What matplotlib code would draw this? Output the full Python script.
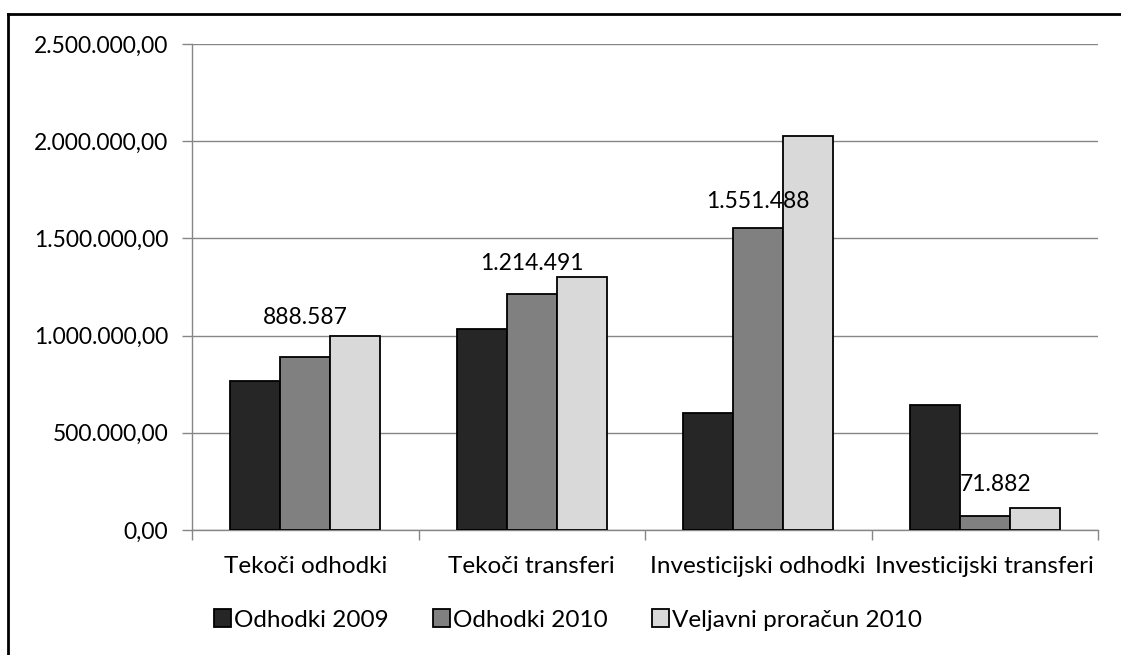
import matplotlib
matplotlib.use('Agg')
import matplotlib.pyplot as plt
from matplotlib.ticker import FuncFormatter
from matplotlib.lines import Line2D
import numpy as np

plt.rcParams['font.family'] = ['Lato', 'DejaVu Sans']

# data
categories = ['Tekoči odhodki', 'Tekoči transferi', 'Investicijski odhodki', 'Investicijski transferi']
series_names = ['Odhodki 2009', 'Odhodki 2010', 'Veljavni proračun 2010']
odhodki_2009 = [766000, 1034000, 603000, 642000]
odhodki_2010 = [888587, 1214491, 1551488, 71882]
veljavni_2010 = [1000000, 1302000, 2027000, 111000]
value_labels = ['888.587', '1.214.491', '1.551.488', '71.882']

# styling
colors = ['#262626', '#808080', '#d9d9d9']
label_offsets = [(0, 21), (0, 14), (0, 12), (8, 15)]  # points, as placed in the reference
grid_col = '#868686'
fs_num = 16.5
fs_txt = 17.5

fig = plt.figure(figsize=(11.21, 6.55), dpi=100)
ax = fig.add_axes([192/1121, 1-530/655, 906/1121, 486/655])

x = np.arange(len(categories))
w = 0.221
for i, (vals, c, name) in enumerate(zip([odhodki_2009, odhodki_2010, veljavni_2010], colors, series_names)):
    ax.bar(x + (i-1)*w, vals, w, color=c, edgecolor='black', linewidth=1.3,
           label=name, zorder=3)

# data labels above the middle bars
for xi, v, t, off in zip(x, odhodki_2010, value_labels, label_offsets):
    ax.annotate(t, (xi, v), xytext=off, textcoords='offset points',
                ha='center', va='bottom', fontsize=fs_num)

ax.set_xlim(-0.5, len(categories)-0.5)
ax.set_ylim(0, 2500000)
ax.set_yticks(np.arange(0, 2500001, 500000))
ax.yaxis.set_major_formatter(FuncFormatter(
    lambda v, p: '{:,.2f}'.format(v).replace(',', ' ').replace('.', ',').replace(' ', '.')))
ax.grid(axis='y', color=grid_col, linewidth=1.0, zorder=0)

# tick marks between categories, labels at centers
ax.set_xticks(np.arange(-0.5, len(categories), 1.0))
ax.set_xticklabels([])
ax.set_xticks(x, minor=True)
ax.set_xticklabels(categories, minor=True, fontsize=fs_txt)
ax.tick_params(axis='x', which='major', length=7, color=grid_col, width=1)
ax.tick_params(axis='x', which='minor', length=0, pad=19)
ax.tick_params(axis='y', length=7, color=grid_col, width=1, labelsize=fs_num, pad=10)

for s in ['top', 'right']:
    ax.spines[s].set_visible(False)
for s in ['left', 'bottom']:
    ax.spines[s].set_color(grid_col)
    ax.spines[s].set_linewidth(1.0)

fig.legend(loc='center', bbox_to_anchor=(568/1121, 1-620/655), ncol=3, frameon=False,
           fontsize=fs_txt, handlelength=0.7, handleheight=0.7, handletextpad=0.15,
           columnspacing=1.8)

# chart border (left and top edges visible)
bx, by = 8/1121, 1-14/655
fig.add_artist(Line2D([bx, bx], [0, by], color='black', linewidth=2, transform=fig.transFigure))
fig.add_artist(Line2D([bx, 1], [by, by], color='black', linewidth=2, transform=fig.transFigure))

fig.savefig('out.png', dpi=100)
